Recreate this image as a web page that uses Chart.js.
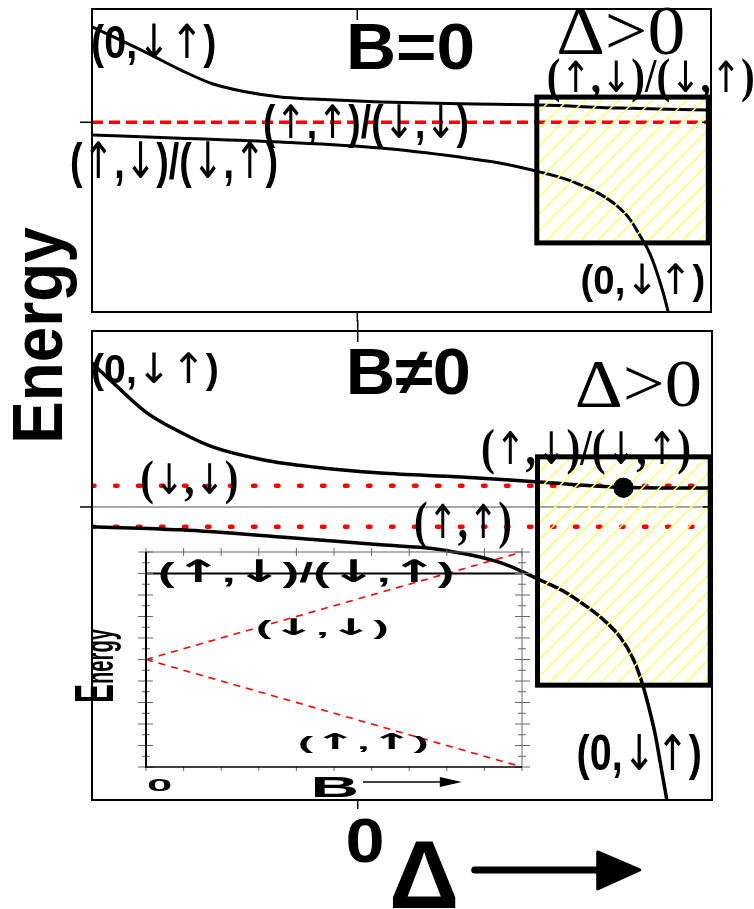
<!DOCTYPE html>
<html><head><meta charset="utf-8">
<script src="https://cdn.jsdelivr.net/npm/chart.js@4.4.1/dist/chart.umd.min.js"></script>
<style>
html,body{margin:0;padding:0;background:#fff;}
#stage{position:relative;width:754px;height:909px;overflow:hidden;background:#fff;}
#stage canvas{position:absolute;left:0;top:0;}
</style></head><body>
<div id="stage">
<canvas id="cTop" width="754" height="909"></canvas>
<canvas id="cBot" width="754" height="909"></canvas>
<canvas id="cIns" width="754" height="909"></canvas>
</div>
<script>
// ================= DATA =================
const deltaRange = [-3, 4];
const topEnergyRange = [-6.7, 4];
const botEnergyRange = [-6.66, 4];

// top panel (B = 0)
const topUpperDelta = [-3.00,-2.38,-2.00,-1.63,-1.25,-0.87,-0.50,0.26,1.17,2.07,2.98,3.96];
const topUpperE     = [ 3.37, 2.45, 1.85, 1.35, 1.07, 0.89, 0.82,0.72,0.65,0.61,0.50,0.43];
const topLowerDelta = [-3.00,-2.00,-0.87,0.26,1.16,1.61,2.07,2.35,2.55,2.74,2.94,3.08,3.20,3.31,3.39,3.46,3.52];
const topLowerE     = [-0.45,-0.56,-0.70,-0.91,-1.23,-1.44,-1.76,-2.00,-2.25,-2.53,-2.96,-3.41,-4.02,-4.65,-5.32,-6.03,-6.74];
const topLevelDelta = [-3, 4];
const topLevelE     = [0, 0];
const topBox        = [2.03, 3.97, 0.89, -4.26];   // delta0, delta1, Etop, Ebottom

// bottom panel (B != 0)
const botUpperDelta = [-3.00,-2.76,-2.38,-2.00,-1.63,-1.06,-0.50,0.26,1.17,2.04,2.98,3.96];
const botUpperE     = [ 3.27, 2.82, 2.14, 1.70, 1.36, 1.07, 0.91,0.77,0.68,0.57,0.45,0.43];
const botLowerDelta = [-3.00,-2.00,-0.87,0.26,0.86,1.62,2.06,2.34,2.59,2.79,2.96,3.10,3.20,3.28,3.36,3.42,3.49];
const botLowerE     = [-0.45,-0.52,-0.68,-0.86,-0.95,-1.27,-1.66,-1.93,-2.27,-2.59,-2.95,-3.41,-3.93,-4.50,-5.18,-5.86,-6.66];
const botLevelDelta = [-3, 4];
const botDownDownE  = [0.48, 0.48];
const botUpUpE      = [-0.45, -0.45];
const botDotDelta   = [3.0];
const botDotE       = [0.44];
const botBox        = [2.03, 3.98, 1.14, -4.05];

// inset (energy vs B)
const insetBRange   = [0, 10];
const insetERange   = [0, 10];
const insetB        = [0, 10];
const insetDownDown = [5, 10];
const insetUpUp     = [5, 0];
const insetUpDown   = [9, 9];

// texts
const topTexts   = ['(0,↓↑)', 'B=0', 'Δ>0', '(↑,↓)/(↓,↑)', '(↑,↑)/(↓,↓)', '(↑,↓)/(↓,↑)', '(0,↓↑)'];
const botTexts   = ['(0,↓↑)', 'B≠0', 'Δ>0', '(↑,↓)/(↓,↑)', '(↓,↓)', '(↑,↑)', '(0,↓↑)'];
const insetTexts = ['(↑,↓)/(↓,↑)', '(↓,↓)', '(↑,↑)'];
const axisTexts  = { energy: 'Energy', zero: '0', delta: 'Δ', b: 'B' };

// ================= HELPERS =================
const SANS  = '"Liberation Sans", Arial, "DejaVu Sans", sans-serif';
const SERIF = '"Liberation Serif", "Times New Roman", "DejaVu Serif", serif';
const ARROW = '"DejaVu Sans", sans-serif';
const pts = (xs, ys) => xs.map((x, i) => ({ x, y: ys[i] }));

// Draws text whose ink box is centred on (cx,cy) and stretched to w x h.
// Arrow glyphs are drawn with a separate font (arrowFont) so they stay tall.
function inkText(ctx, text, cx, cy, w, h, font, rot, arrowFont) {
  const runs = [];
  let cur = '', curA = null;
  for (const ch of text) {
    const isA = !!arrowFont && (ch === '↑' || ch === '↓');
    if (curA === null || isA === curA) { cur += ch; curA = isA; }
    else { runs.push([cur, curA]); cur = ch; curA = isA; }
  }
  runs.push([cur, curA]);
  ctx.save();
  ctx.textAlign = 'left'; ctx.textBaseline = 'alphabetic';
  let pos = 0, minX = Infinity, maxX = -Infinity, minY = Infinity, maxY = -Infinity;
  const lay = runs.map(([t, a]) => {
    const f = a ? arrowFont : font;
    ctx.font = f;
    const m = ctx.measureText(t);
    minX = Math.min(minX, pos - m.actualBoundingBoxLeft);
    maxX = Math.max(maxX, pos + m.actualBoundingBoxRight);
    minY = Math.min(minY, -m.actualBoundingBoxAscent);
    maxY = Math.max(maxY, m.actualBoundingBoxDescent);
    const r = { t, f, x: pos };
    pos += m.width;
    return r;
  });
  const sx = w / (maxX - minX), sy = h / (maxY - minY);
  ctx.translate(cx, cy);
  if (rot) ctx.rotate(rot);
  ctx.scale(sx, sy);
  ctx.translate(-(minX + maxX) / 2, -(minY + maxY) / 2);
  ctx.fillStyle = '#000';
  lay.forEach(r => { ctx.font = r.f; ctx.fillText(r.t, r.x, 0); });
  ctx.restore();
}
function seg(ctx, x1, y1, x2, y2) { ctx.beginPath(); ctx.moveTo(x1, y1); ctx.lineTo(x2, y2); ctx.stroke(); }

const deco = {
  id: 'deco',
  beforeDatasetsDraw(chart, args, o) { if (o.before) o.before(chart); },
  afterDatasetsDraw(chart, args, o) {
    const ctx = chart.ctx, xs = chart.scales.x, ys = chart.scales.y;
    (o.boxes || []).forEach(b => {
      const x0 = xs.getPixelForValue(b[0]), x1 = xs.getPixelForValue(b[1]);
      const y0 = ys.getPixelForValue(b[2]), y1 = ys.getPixelForValue(b[3]);
      ctx.save();
      ctx.beginPath(); ctx.rect(x0, y0, x1 - x0, y1 - y0); ctx.clip();
      ctx.strokeStyle = '#ffff66'; ctx.lineWidth = 1.5;
      const hh = y1 - y0;
      for (let s = x0 - hh; s < x1 + 2; s += 17) seg(ctx, s, y1, s + hh, y0);
      ctx.restore();
    });
    (o.redraw || []).forEach(i => chart.getDatasetMeta(i).data.forEach(el => el.draw(ctx, chart.chartArea)));
    (o.boxes || []).forEach(b => {
      const x0 = xs.getPixelForValue(b[0]), x1 = xs.getPixelForValue(b[1]);
      const y0 = ys.getPixelForValue(b[2]), y1 = ys.getPixelForValue(b[3]);
      ctx.save(); ctx.strokeStyle = '#000'; ctx.lineWidth = 5; ctx.lineJoin = 'miter';
      ctx.strokeRect(x0, y0, x1 - x0, y1 - y0); ctx.restore();
    });
  },
  afterDraw(chart, args, o) {
    const ctx = chart.ctx, xs = chart.scales.x, ys = chart.scales.y;
    if (o.after) o.after(chart);
    (o.labels || []).forEach(l => {
      inkText(ctx, l.t, xs.getPixelForValue(l.x), ys.getPixelForValue(l.y), l.w, l.h, l.font, l.rot, l.arrow);
    });
  }
};

function mainFrame(chart, topOut, topIn) {
  const { ctx, chartArea: a } = chart, xs = chart.scales.x, ys = chart.scales.y;
  ctx.save();
  ctx.strokeStyle = '#000'; ctx.lineWidth = 2;
  ctx.strokeRect(a.left, a.top, a.right - a.left, a.bottom - a.top);
  const x0 = xs.getPixelForValue(0), y0 = ys.getPixelForValue(0);
  ctx.lineWidth = 1.5;
  seg(ctx, x0, a.top - topOut, x0, a.top + topIn);
  seg(ctx, x0, a.bottom, x0, a.bottom + 9);
  seg(ctx, a.left - 12, y0, a.left, y0);
  seg(ctx, a.right - 9, y0, a.right, y0);
  ctx.restore();
}

function makeChart(id, pad, xr, yr, datasets, decoOpts) {
  return new Chart(document.getElementById(id), {
    type: 'line',
    data: { datasets },
    options: {
      responsive: false, animation: false, devicePixelRatio: 1, events: [],
      layout: { padding: pad },
      scales: {
        x: { type: 'linear', min: xr[0], max: xr[1], display: false },
        y: { type: 'linear', min: yr[0], max: yr[1], display: false }
      },
      plugins: { legend: { display: false }, tooltip: { enabled: false }, deco: decoOpts },
      elements: { point: { radius: 0 } }
    },
    plugins: [deco]
  });
}
const curve = (data, w) => ({ data, borderColor: '#000', borderWidth: w, cubicInterpolationMode: 'monotone', pointRadius: 0, fill: false, clip: 0 });

const AS = 'normal 44px ' + ARROW;     // arrow font for main labels

// ================= TOP PANEL =================
makeChart('cTop', { left: 92, right: 43, top: 9, bottom: 597 }, deltaRange, topEnergyRange, [
  curve(pts(topUpperDelta, topUpperE), 3),
  curve(pts(topLowerDelta, topLowerE), 3),
  { data: pts(topLevelDelta, topLevelE), borderColor: '#ff0000', borderWidth: 3.5, borderDash: [11, 6], pointRadius: 0, clip: 0 }
], {
  boxes: [topBox],
  after: c => mainFrame(c, 0, 11),
  labels: [
    { t: topTexts[0], x: -2.30, y: 2.71, w: 122, h: 45, font: 'bold 44px ' + SANS, arrow: AS },
    { t: topTexts[1], x: 0.61, y: 2.68, w: 122, h: 47, font: 'bold 64px ' + SANS },
    { t: topTexts[2], x: 2.98, y: 3.22, w: 125, h: 48, font: '70px ' + SERIF },
    { t: topTexts[3], x: 3.32, y: 1.49, w: 205, h: 46, font: 'bold 50px ' + SERIF, arrow: AS },
    { t: topTexts[4], x: 0.10, y: -0.10, w: 203, h: 44, font: 'bold 44px ' + SANS, arrow: AS },
    { t: topTexts[5], x: -2.07, y: -1.47, w: 205, h: 48, font: 'bold 44px ' + SANS, arrow: AS },
    { t: topTexts[6], x: 3.23, y: -5.67, w: 121, h: 40, font: 'bold 42px ' + SANS, arrow: AS }
  ]
});

// ================= BOTTOM PANEL =================
makeChart('cBot', { left: 92, right: 42, top: 331, bottom: 109 }, deltaRange, botEnergyRange, [
  { data: pts(botDotDelta, botDotE), showLine: false, pointRadius: 10, pointBackgroundColor: '#000', pointBorderColor: '#000', pointBorderWidth: 0 },
  curve(pts(botUpperDelta, botUpperE), 3.5),
  curve(pts(botLowerDelta, botLowerE), 3.5),
  { data: pts(botLevelDelta, botDownDownE), borderColor: '#ff0000', borderWidth: 4.5, borderDash: [2.5, 20.5], borderCapStyle: 'round', pointRadius: 0, clip: 0 },
  { data: pts(botLevelDelta, botUpUpE), borderColor: '#ff0000', borderWidth: 4.5, borderDash: [2.5, 20.5], borderCapStyle: 'round', pointRadius: 0, clip: 0 }
], {
  boxes: [botBox],
  redraw: [0],
  before: c => {
    const { ctx, chartArea: a } = c; const y0 = c.scales.y.getPixelForValue(0);
    ctx.save(); ctx.strokeStyle = '#8a8a8a'; ctx.lineWidth = 1.5; seg(ctx, a.left, y0, a.right, y0); ctx.restore();
  },
  after: c => {
    mainFrame(c, 11, 11);
    const ctx = c.ctx, a = c.chartArea, x0 = c.scales.x.getPixelForValue(0);
    // x-axis tick label and title
    inkText(ctx, axisTexts.zero, x0 + 7, a.bottom + 40.5, 34, 45, 'bold 62px ' + SANS);
    inkText(ctx, axisTexts.delta, x0 + 66, a.bottom + 74, 63, 68, 'bold 90px ' + SANS);
    ctx.save();
    ctx.strokeStyle = '#000'; ctx.fillStyle = '#000'; ctx.lineWidth = 7; ctx.lineCap = 'round';
    seg(ctx, x0 + 117, a.bottom + 70, x0 + 245, a.bottom + 70);
    ctx.lineJoin = 'round'; ctx.lineWidth = 3;
    ctx.beginPath(); ctx.moveTo(x0 + 240, a.bottom + 52); ctx.lineTo(x0 + 282, a.bottom + 70); ctx.lineTo(x0 + 240, a.bottom + 89); ctx.closePath();
    ctx.fill(); ctx.stroke();
    ctx.restore();
    // y-axis title
    inkText(ctx, axisTexts.energy, 45, 333.5, 213, 64, 'bold 66px ' + SANS, -Math.PI / 2);
  },
  labels: [
    { t: botTexts[0], x: -2.29, y: 3.07, w: 124, h: 40, font: 'bold 42px ' + SANS, arrow: AS },
    { t: botTexts[1], x: 0.58, y: 3.09, w: 118, h: 48, font: 'bold 64px ' + SANS },
    { t: botTexts[2], x: 3.17, y: 2.81, w: 123, h: 47, font: '70px ' + SERIF },
    { t: botTexts[3], x: 2.58, y: 1.27, w: 207, h: 48, font: 'bold 50px ' + SERIF, arrow: AS },
    { t: botTexts[4], x: -1.90, y: 0.56, w: 95, h: 45, font: 'bold 50px ' + SERIF, arrow: AS },
    { t: botTexts[5], x: 1.19, y: -0.41, w: 95, h: 50, font: 'bold 50px ' + SERIF, arrow: AS },
    { t: botTexts[6], x: 3.18, y: -5.67, w: 122, h: 47, font: 'bold 44px ' + SANS, arrow: AS }
  ]
});

// ================= INSET =================
makeChart('cIns', { left: 146, right: 232, top: 552, bottom: 142 }, insetBRange, insetERange, [
  { data: pts(insetB, insetUpDown), borderColor: '#000', borderWidth: 2, pointRadius: 0, clip: 0 },
  { data: pts(insetB, insetDownDown), borderColor: '#ff0000', borderWidth: 1.6, borderDash: [7, 6], pointRadius: 0, clip: 0 },
  { data: pts(insetB, insetUpUp), borderColor: '#ff0000', borderWidth: 1.6, borderDash: [7, 6], pointRadius: 0, clip: 0 }
], {
  after: c => {
    const { ctx, chartArea: a } = c, xs = c.scales.x, ys = c.scales.y;
    ctx.save();
    ctx.strokeStyle = '#666'; ctx.lineWidth = 1;
    seg(ctx, a.left, a.top, a.right, a.top);
    seg(ctx, a.right, a.top, a.right, a.bottom);
    for (let v = 0; v <= 10; v += 0.5) {
      const y = ys.getPixelForValue(v), maj = Number.isInteger(v);
      seg(ctx, a.left - (maj ? 8 : 4), y, a.left + (maj ? 7 : 4), y);
      seg(ctx, a.right - (maj ? 7 : 4), y, a.right + (maj ? 8 : 4), y);
    }
    for (let v = 0; v <= 10; v += 1) {
      const x = xs.getPixelForValue(v);
      seg(ctx, x, a.bottom, x, a.bottom + 4);
      seg(ctx, x, a.top - 4, x, a.top + 4);
    }
    ctx.strokeStyle = '#000'; ctx.lineWidth = 2;
    seg(ctx, a.left, a.top, a.left, a.bottom + 1);
    ctx.lineWidth = 1.5;
    seg(ctx, a.left, a.bottom, a.right, a.bottom);
    // B arrow
    const bx0 = xs.getPixelForValue(5.77), bx1 = xs.getPixelForValue(8.40), by = a.bottom + 15;
    ctx.lineWidth = 1.5; seg(ctx, bx0, by, bx1 - 18, by);
    ctx.fillStyle = '#000';
    ctx.beginPath(); ctx.moveTo(bx1 - 22, by - 5); ctx.lineTo(bx1, by); ctx.lineTo(bx1 - 22, by + 5); ctx.closePath(); ctx.fill();
    ctx.restore();
    // tick label 0 and title B
    inkText(ctx, axisTexts.zero, xs.getPixelForValue(0.36), a.bottom + 18.5, 25, 11, 'bold 20px ' + SANS);
    inkText(ctx, axisTexts.b, xs.getPixelForValue(5.03), a.bottom + 20, 44, 20, 'bold 26px ' + SANS);
    // rotated "Energy" (large E)
    ctx.save();
    ctx.fillStyle = '#000'; ctx.textBaseline = 'alphabetic'; ctx.textAlign = 'left';
    ctx.font = 'bold 56px ' + SANS; const wE = ctx.measureText('E').width;
    ctx.font = 'bold 40px ' + SANS; const wN = ctx.measureText('nergy').width;
    const sx = 74 / (wE + wN);
    ctx.translate(113, 703); ctx.rotate(-Math.PI / 2); ctx.scale(sx, 1);
    ctx.font = 'bold 56px ' + SANS; ctx.fillText('E', 0, 0);
    ctx.font = 'bold 40px ' + SANS; ctx.fillText('nergy', wE, 0);
    ctx.restore();
  },
  labels: [
    { t: insetTexts[0], x: 4.27, y: 9.05, w: 293, h: 29, font: 'bold 26px ' + SANS, arrow: 'bold 29px ' + ARROW },
    { t: insetTexts[1], x: 4.71, y: 6.42, w: 130, h: 22, font: 'bold 22px ' + SANS, arrow: 'bold 25px ' + ARROW },
    { t: insetTexts[2], x: 5.80, y: 1.14, w: 128, h: 21, font: 'bold 22px ' + SANS, arrow: 'bold 25px ' + ARROW }
  ]
});
</script>
</body></html>
